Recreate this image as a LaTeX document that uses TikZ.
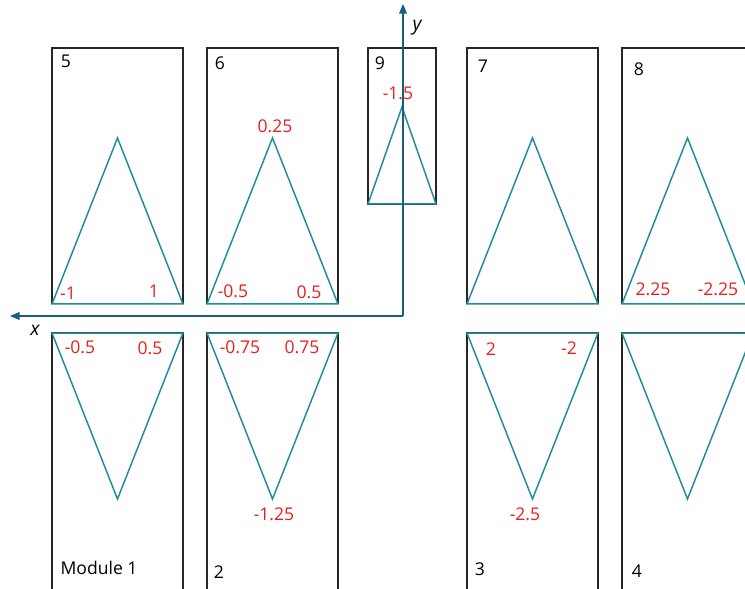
\documentclass[tikz,border=0pt]{standalone}
\usepackage{fontspec}
\setmainfont{Open Sans}
\usetikzlibrary{arrows.meta,calc}
\definecolor{trigreen}{RGB}{35,140,160}
\definecolor{axisblue}{RGB}{25,95,125}
\definecolor{valred}{RGB}{235,30,30}

\begin{document}
\begin{tikzpicture}[x=0.02cm,y=-0.02cm,
  modbox/.style={draw=black!85,line width=0.6pt,inner sep=0pt,outer sep=0pt,
    minimum width=2.62cm,minimum height=5.12cm,anchor=north west},
  tri/.style={draw=trigreen,line width=0.85pt,line join=miter},
  num/.style={font=\fontsize{10}{12}\selectfont,inner sep=0pt},
  val/.style={num,text=valred}]
  \useasboundingbox (0,0) rectangle (745,589);
  \clip (0,0) rectangle (745,589);
  % upper row
  \foreach \n/\x in {5/52,6/207,7/467,8/622} {
    \node[modbox] (m\n) at (\x,48) {};
    \draw[tri] (m\n.south west) -- (m\n.south east) -- ($(m\n.south)+(0,-166)$) -- cycle;
  }
  \node[modbox,minimum width=1.36cm,minimum height=3.12cm] (m9) at (368,48) {};
  \draw[tri] (m9.south west) -- (m9.south east) -- ($(m9.south)+(0,-97)$) -- cycle;
  % lower row (runs on past the page)
  \foreach \n/\x in {1/52,2/207,3/467,4/622} {
    \node[modbox,minimum height=5.5cm] (m\n) at (\x,333) {};
    \draw[tri] (m\n.north west) -- (m\n.north east) -- ($(m\n.north west)!0.5!(m\n.north east)+(0,166)$) -- cycle;
  }
  % axes
  \coordinate (o) at (403,316);
  \coordinate (xend) at (10,316);
  \coordinate (yend) at (403,4);
  \draw[axisblue,line width=0.6pt,-{Triangle[length=5.5pt,width=4.5pt]}] (o) -- (xend);
  \draw[axisblue,line width=0.6pt,-{Triangle[length=5.5pt,width=4.5pt]}] (o) -- (yend);
  \node[num,font=\fontsize{11}{13}\selectfont\itshape] (xl) at (35,330) {x};
  \node[num,font=\fontsize{11}{13}\selectfont\itshape] (yl) at (417,28) {y};
  % module numbers
  \node[num] (n5) at (66,61) {5};
  \node[num] (n6) at (220,63) {6};
  \node[num] (n9) at (380,63) {9};
  \node[num] (n7) at (483,66) {7};
  \node[num] (n8) at (639,69) {8};
  \node[num] (n1) at (99,568) {Module 1};
  \node[num] (n2) at (219,572) {2};
  \node[num] (n3) at (480,569) {3};
  \node[num] (n4) at (637,571) {4};
  % values
  \node[val] (v5l) at (68,293) {-1};
  \node[val] (v5r) at (154,291) {1};
  \node[val] (v6l) at (233,291) {-0.5};
  \node[val] (v6r) at (309,292) {0.5};
  \node[val] (v6t) at (275,126) {0.25};
  \node[val] (v9t) at (398,93) {-1.5};
  \node[val] (v8l) at (653,289) {2.25};
  \node[val] (v8r) at (718,289) {-2.25};
  \node[val] (v1l) at (80,347) {-0.5};
  \node[val] (v1r) at (150,348) {0.5};
  \node[val] (v2l) at (240,347) {-0.75};
  \node[val] (v2r) at (302,347) {0.75};
  \node[val] (v2b) at (274,514) {-1.25};
  \node[val] (v3l) at (491,349) {2};
  \node[val] (v3r) at (569,348) {-2};
  \node[val] (v3b) at (525,514) {-2.5};
\end{tikzpicture}
\end{document}
